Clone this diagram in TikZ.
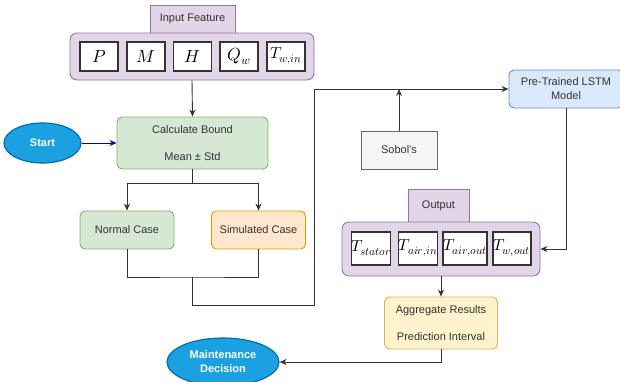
\documentclass[tikz,border=0pt]{standalone}
\usepackage{fontspec}
\setmainfont{Liberation Sans}
\usepackage{unicode-math}
\setmathfont{Latin Modern Math}
\usetikzlibrary{shapes.geometric,arrows.meta,calc}

\definecolor{purpleFill}{HTML}{E1D5E7}
\definecolor{purpleLine}{HTML}{9673A6}
\definecolor{greenFill}{HTML}{D5E8D4}
\definecolor{greenLine}{HTML}{82B366}
\definecolor{orangeFill}{HTML}{FFE6CC}
\definecolor{orangeLine}{HTML}{D79B00}
\definecolor{yellowFill}{HTML}{FFF2CC}
\definecolor{yellowLine}{HTML}{D6B656}
\definecolor{blueFill}{HTML}{DAE8FC}
\definecolor{blueLine}{HTML}{6C8EBF}
\definecolor{grayFill}{HTML}{F5F5F5}
\definecolor{grayLine}{HTML}{666666}
\definecolor{termFill}{HTML}{1BA1E2}
\definecolor{termLine}{HTML}{006EAF}
\definecolor{inkText}{HTML}{333333}
\definecolor{wireCol}{HTML}{333333}

\tikzset{
  box/.style={draw, line width=0.9pt, rounded corners=5pt, align=center,
    inner sep=0pt, text=inkText, font=\fontsize{11}{14}\selectfont},
  tabbox/.style={box, rounded corners=0pt, fill=purpleFill, draw=purpleLine},
  holder/.style={draw=purpleLine, fill=purpleFill, line width=0.9pt,
    rounded corners=7pt, inner sep=0pt},
  varbox/.style={draw=black!80, fill=white, line width=1.1pt, inner sep=0pt,
    minimum width=38pt, font=\fontsize{16}{18}\selectfont},
  bigvar/.style={varbox, font=\fontsize{17.5}{19}\selectfont},
  term/.style={ellipse, draw=termLine, fill=termFill, line width=1.2pt,
    text=white, align=center, inner sep=0pt,
    font=\fontsize{11}{14}\selectfont\bfseries},
  wire/.style={draw=wireCol, line width=0.9pt},
  arr/.style={wire, -{Stealth[length=7pt,width=6pt]}}
}

\begin{document}
\begin{tikzpicture}[x=1pt,y=-1pt]
\useasboundingbox (0,0) rectangle (620,381);

% input feature group
\node[tabbox, minimum width=85pt, minimum height=28pt] (tabIn) at (192.5,19) {Input Feature};
\node[holder, minimum width=244pt, minimum height=47pt] (inBox) at (192,56.5) {};
\node[bigvar, minimum height=29pt] (vP) at (99,56.5) {$P$};
\node[bigvar, minimum height=29pt] (vM) at (146,56.5) {$M$};
\node[bigvar, minimum height=29pt] (vH) at (192.5,56.5) {$H$};
\node[bigvar, minimum height=29pt] (vQ) at (239,56.5) {$Q_w$};
\node[varbox, minimum height=29pt] (vT) at (286,56.5) {$T_{w,in}$};

% flow on the left
\node[term, minimum width=77pt, minimum height=40pt] (start) at (42.5,143) {Start};
\node[box, fill=greenFill, draw=greenLine, minimum width=151pt, minimum height=52pt]
  (calc) at (192.5,143) {Calculate Bound\\[13pt]Mean ± Std};
\node[box, fill=greenFill, draw=greenLine, minimum width=94pt, minimum height=38pt]
  (normal) at (127,230) {Normal Case};
\node[box, fill=orangeFill, draw=orangeLine, minimum width=94pt, minimum height=38pt]
  (sim) at (258.5,230) {Simulated Case};

% sensitivity and model
\node[box, rounded corners=0pt, fill=grayFill, draw=grayLine, minimum width=76pt, minimum height=38pt]
  (sobol) at (399,150) {Sobol's};
\node[box, fill=blueFill, draw=blueLine, minimum width=114pt, minimum height=38pt]
  (lstm) at (566,89) {Pre-Trained LSTM\\Model};

% output group
\node[tabbox, minimum width=61pt, minimum height=33pt] (tabOut) at (438.5,205.5) {Output};
\node[holder, minimum width=198pt, minimum height=54pt] (outBox) at (441,249) {};
\node[varbox, minimum height=33pt] (oS) at (371,248.5) {$T_{stator}$};
\node[varbox, minimum height=33pt] (oAi) at (418,248.5) {$T_{air,in}$};
\node[varbox, minimum height=33pt] (oAo) at (465,248.5) {$T_{air,out}$};
\node[varbox, minimum height=33pt] (oW) at (512,248.5) {$T_{w,out}$};

\node[box, fill=yellowFill, draw=yellowLine, minimum width=113pt, minimum height=52pt]
  (agg) at (441,323) {Aggregate Results\\[13pt]Prediction Interval};
\node[term, minimum width=112pt, minimum height=48pt] (maint) at (223,362) {Maintenance\\Decision};

% junction points of the wiring
\coordinate (split) at (192.5,183);
\coordinate (join) at (192.5,277);
\coordinate (bend) at (314,305);
\coordinate (sobolIn) at (sobol.north |- lstm.west);

% connectors
\draw[arr] (inBox.south) -- (calc.north);
\draw[wire, draw=blue!75!black, -{Stealth[length=7pt,width=6pt]}] (start.east) -- (calc.west);
\draw[wire] (calc.south) -- (split);
\draw[arr] (split) -| (normal.north);
\draw[arr] (split) -| (sim.north);
\draw[wire] (normal.south) |- (join) -| (sim.south);
\draw[arr] (join) |- (bend) |- (lstm.west);
\draw[arr] (sobol.north) -- (sobolIn);
\draw[arr] (lstm.south) |- (outBox.east);
\draw[arr] (outBox.south) -- (agg.north);
\draw[arr] (agg.south) |- (maint.east);
\end{tikzpicture}
\end{document}
